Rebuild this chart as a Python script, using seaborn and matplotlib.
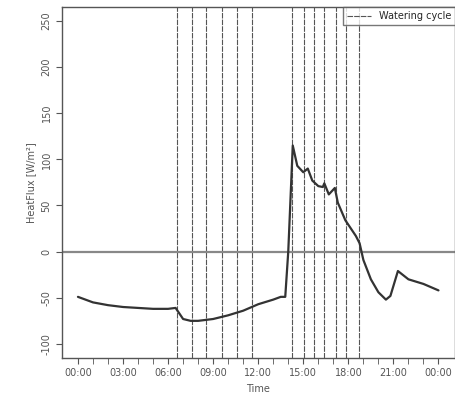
import matplotlib
matplotlib.use("Agg")
import matplotlib.pyplot as plt
import seaborn as sns
import pandas as pd

# hours since midnight and heat flux
hours = [0, 1, 2, 3, 4, 5, 6, 6.5, 7, 7.5, 8, 9, 10, 11, 12, 13, 13.5, 13.8,
         14, 14.3, 14.6, 15, 15.3, 15.6, 16, 16.3, 16.4, 16.7, 17.1, 17.3,
         17.8, 18.5, 18.75, 19, 19.5, 20, 20.5, 20.8, 21.3, 22, 23, 24]
flux = [-49, -55, -58, -60, -61, -62, -62, -61, -73, -75, -75, -73, -69, -64,
        -57, -52, -49, -49, 0, 115, 93, 86, 90, 77, 71, 70, 74, 62, 69, 53,
        34, 17, 9, -9, -30, -44, -52, -48, -21, -30, -35, -42]
watering = [6.6, 7.6, 8.55, 9.6, 10.6, 11.6, 14.27, 15.07, 15.73, 16.4, 17.2,
            17.87, 18.73]
tick_hours = [0, 3, 6, 9, 12, 15, 18, 21, 24]
tick_labels = ["00:00", "03:00", "06:00", "09:00", "12:00", "15:00", "18:00",
               "21:00", "00:00"]

df = pd.DataFrame({"hour": hours, "flux": flux})

sns.set_style("white")
fig = plt.figure(figsize=(4.55, 4.16), dpi=100)
ax = fig.add_axes([0.136, 0.14, 0.864, 0.843])

for i, w in enumerate(watering):
    ax.axvline(w, color="#555555", lw=0.8, ls=(0, (5, 1)),
               label="Watering cycle" if i == 0 else None)
ax.axhline(0, color="#888888", lw=1.6)
sns.lineplot(data=df, x="hour", y="flux", color="#333333", lw=1.6, ax=ax)

ax.set_xlim(-1.07, 25.1)
ax.set_ylim(-115, 265)
ax.set_xticks(tick_hours)
ax.set_xticklabels(tick_labels, fontsize=7, color="#555555")
ax.set_xticks(range(0, 25), minor=True)
ax.set_yticks([-100, -50, 0, 50, 100, 150, 200, 250])
ax.set_yticklabels(["-100", "-50", "0", "50", "100", "150", "200", "250"],
                   rotation=90, va="center", fontsize=7, color="#555555")
ax.tick_params(which="both", direction="out", length=4, color="#555555",
               left=True, bottom=True)
ax.set_xlabel("Time", fontsize=7, color="#555555")
ax.set_ylabel("HeatFlux [W/m²]", fontsize=7, color="#555555")
for s in ax.spines.values():
    s.set_color("#555555")
    s.set_linewidth(1.0)
ax.legend(loc="upper right", fontsize=7, frameon=True, fancybox=False,
          edgecolor="#555555", borderaxespad=0, handlelength=2.5)

fig.savefig("out.png", dpi=100)
